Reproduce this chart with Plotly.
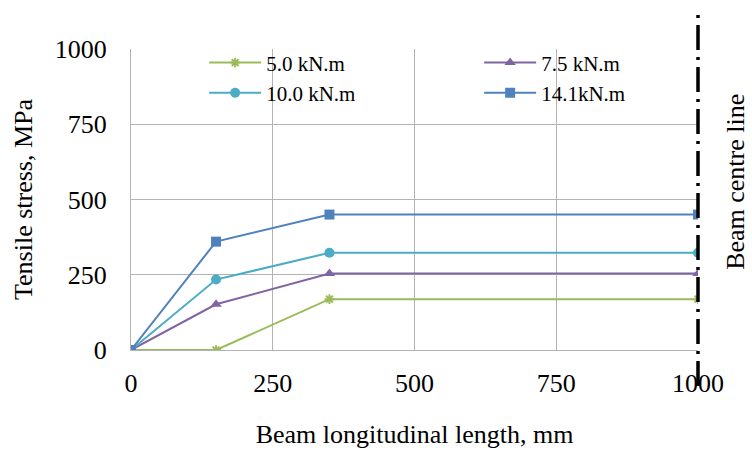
import plotly.graph_objects as go

# Distance along the beam (mm)
length_mm = [0, 150, 350, 1000]

# Tensile stress (MPa) for each applied moment
stress_5_0 = [0, 0, 169, 169]
stress_7_5 = [0, 152, 254, 254]
stress_10_0 = [0, 234, 323, 323]
stress_14_1 = [0, 360, 450, 450]

series_names = ["5.0 kN.m", "7.5 kN.m", "10.0 kN.m", "14.1kN.m"]
series_values = [stress_5_0, stress_7_5, stress_10_0, stress_14_1]
series_colors = ["#9BBB59", "#8064A2", "#4BACC6", "#4F81BD"]
series_symbols = ["asterisk-open", "triangle-up", "circle", "square"]
series_legends = ["legend", "legend2", "legend", "legend2"]

x_ticks = [0, 250, 500, 750, 1000]
y_ticks = [0, 250, 500, 750, 1000]

FONT = "Liberation Serif, Times New Roman, serif"
GRID = "#B3B3B3"

fig = go.Figure()
for name, vals, col, sym, lg in zip(series_names, series_values, series_colors,
                                    series_symbols, series_legends):
    marker = dict(symbol=sym, size=10, color=col)
    if sym == "asterisk-open":
        marker.update(size=8, line=dict(color=col, width=2))
    fig.add_trace(go.Scatter(
        x=length_mm, y=vals, name=name, mode="lines+markers", legend=lg,
        line=dict(color=col, width=2), marker=marker,
    ))

# Beam centre line (dash-dot) along the right edge of the span (x = 1000 mm);
# paper coordinates keep the thick stroke from being clipped by the plot area
fig.add_shape(type="line", xref="paper", yref="paper", x0=1, x1=1,
              y0=-0.12, y1=1.13, layer="above",
              line=dict(color="black", width=3.5, dash="25px,7px,3px,7px"))

fig.add_annotation(text="Beam centre line", xref="paper", yref="paper",
                   x=1.066, y=0.56, xanchor="center", yanchor="middle",
                   textangle=-90, showarrow=False,
                   font=dict(family=FONT, size=26, color="black"))

legend_style = dict(orientation="v", yanchor="top", xanchor="left",
                    font=dict(family=FONT, size=21, color="black"),
                    bgcolor="rgba(0,0,0,0)", tracegroupgap=0, itemwidth=52)

fig.update_layout(
    width=752, height=455,
    margin=dict(l=131, r=54, t=49, b=103),
    paper_bgcolor="white", plot_bgcolor="white",
    font=dict(family=FONT, size=26, color="black"),
    showlegend=True,
    legend=dict(x=0.129, y=1.022, **legend_style),
    legend2=dict(x=0.614, y=1.022, **legend_style),
    xaxis=dict(range=[0, 1000], tickvals=x_ticks, showgrid=True, gridcolor=GRID,
               gridwidth=1, showline=True, linecolor=GRID, linewidth=1,
               zeroline=False, ticks="", ticklen=0, ticklabelstandoff=10,
               tickfont=dict(family=FONT, size=26),
               title=dict(text="Beam longitudinal length, mm", standoff=27,
                          font=dict(family=FONT, size=26))),
    yaxis=dict(range=[0, 1000], tickvals=y_ticks, showgrid=True, gridcolor=GRID,
               gridwidth=1, showline=True, linecolor=GRID, linewidth=1,
               zeroline=False, ticks="", ticklen=0, ticklabelstandoff=18,
               tickfont=dict(family=FONT, size=26),
               title=dict(text="Tensile stress, MPa", standoff=14,
                          font=dict(family=FONT, size=26))),
)

fig.write_html("out.html")
